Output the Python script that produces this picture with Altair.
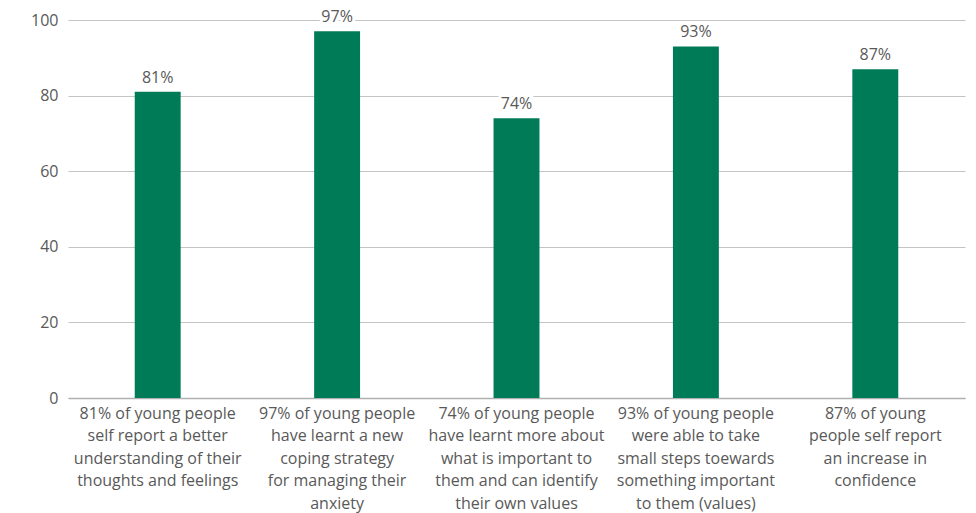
import altair as alt
import pandas as pd

categories = [
    "81% of young people|self report a better|understanding of their|thoughts and feelings",
    "97% of young people|have learnt a new|coping strategy|for managing their|anxiety",
    "74% of young people|have learnt more about|what is important to|them and can identify|their own values",
    "93% of young people|were able to take|small steps toewards|something important|to them (values)",
    "87% of young|people self report|an increase in|confidence",
]
values = [81, 97, 74, 93, 87]
labels = ["81%", "97%", "74%", "93%", "87%"]

df = pd.DataFrame({"cat": categories, "value": values, "label": labels})

FONT = "Open Sans"
GRAY = "#595959"

x = alt.X(
    "cat:N",
    sort=None,
    title=None,
    scale=alt.Scale(paddingInner=0.744, paddingOuter=0.372),
    axis=alt.Axis(
        labelExpr="split(datum.label, '|')",
        labelAngle=0,
        labelFont=FONT,
        labelFontSize=16,
        labelColor=GRAY,
        labelLineHeight=22.5,
        labelPadding=7,
        labelLimit=300,
        ticks=False,
        domainColor="#b0b0b0",
        domainWidth=1.5,
        grid=False,
    ),
)
y = alt.Y(
    "value:Q",
    title=None,
    scale=alt.Scale(domain=[0, 100]),
    axis=alt.Axis(
        values=[0, 20, 40, 60, 80, 100],
        labelFont=FONT,
        labelFontSize=16,
        labelColor=GRAY,
        labelPadding=10,
        ticks=False,
        domain=False,
        gridColor="#c4c4c4",
        gridWidth=1.2,
    ),
)

base = alt.Chart(df).encode(x=x, y=y)
bars = base.mark_bar(color="#007b57")
halo = base.mark_text(
    dy=-14, font=FONT, fontSize=16, color="white", stroke="white", strokeWidth=6
).encode(text="label:N")
text = base.mark_text(dy=-14, font=FONT, fontSize=16, color=GRAY).encode(text="label:N")

chart = (
    alt.layer(bars, halo, text)
    .properties(
        width=897,
        height=378,
        autosize="none",
        padding={"left": 68, "top": 20, "right": 11, "bottom": 115},
        background="white",
    )
    .configure_view(stroke=None)
)

chart.save("out.html", embed_options={"renderer": "svg", "actions": False})
